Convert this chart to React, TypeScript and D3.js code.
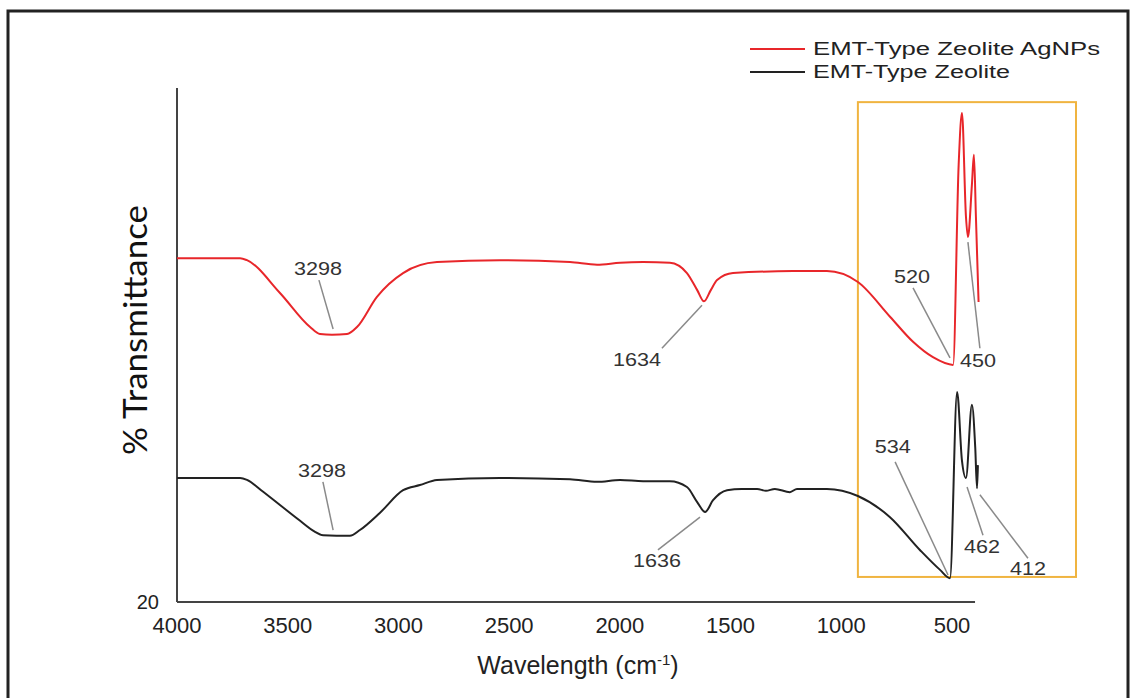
import React, { useEffect, useRef } from "react";
import * as d3 from "d3";

// EMT-Type Zeolite AgNPs (red)
const redWave = [4000, 3850, 3715, 3684, 3535, 3399, 3354, 3300, 3232, 3187, 3097, 2979, 2826, 2541, 2225, 2103, 1999, 1895, 1774, 1697, 1650, 1620, 1590, 1561, 1489, 1218, 1065, 925, 780, 676, 586, 495, 470, 455, 437, 428, 410, 401, 392, 380];
const redT = [73.5, 73.5, 73.5, 73.2, 68.1, 62.8, 61.7, 61.6, 61.7, 62.8, 67.5, 71.2, 72.9, 73.2, 72.9, 72.5, 72.8, 72.9, 72.8, 71.2, 68.5, 66.8, 68.5, 70.1, 71.2, 71.5, 71.5, 69.8, 64.4, 60.5, 58.1, 56.9, 88, 96.1, 80, 76.8, 85, 89.6, 80, 66.7];

// EMT-Type Zeolite (black)
const blackWave = [4000, 3715, 3684, 3620, 3535, 3450, 3380, 3340, 3219, 3174, 3083, 2979, 2903, 2826, 2541, 2225, 2103, 1999, 1895, 1774, 1697, 1650, 1615, 1580, 1516, 1450, 1380, 1340, 1300, 1232, 1200, 1065, 925, 780, 645, 554, 509, 477, 455, 437, 410, 395, 387, 383];
const blackT = [39.3, 39.3, 39.0, 37.4, 35.1, 32.8, 31.0, 30.4, 30.3, 31.2, 33.9, 37.4, 38.2, 39.0, 39.3, 39.1, 38.7, 39.0, 38.8, 38.8, 37.9, 35.5, 34.0, 35.8, 37.4, 37.6, 37.6, 37.3, 37.6, 37.1, 37.6, 37.6, 36.5, 33.2, 28.1, 25.0, 23.7, 52.7, 42, 39.3, 50.7, 44, 37.7, 41.3];

const xTicks = [4000, 3500, 3000, 2500, 2000, 1500, 1000, 500];
const legendNames = ["EMT-Type Zeolite AgNPs", "EMT-Type Zeolite"];
const seriesColors = ["#e8262a", "#222222"];

// peak annotations: label, text anchor (wave, T), leader line from/to (wave, T)
const peakLabels = ["3298", "3298", "1634", "1636", "520", "450", "534", "462", "412"];
const peakTextAt = [[3363, 70.9], [3345, 39.5], [1923, 56.7], [1832, 25.4], [681, 69.6], [383, 56.6], [767, 43.2], [365, 27.6], [157, 24.2]];
const peakLineFrom = [[3359, 70.1], [3341, 38.7], [1810, 59.5], [1828, 28.1], [676, 68.9], [428, 76.0], [757, 41.8], [432, 37.9], [374, 36.7]];
const peakLineTo = [[3295, 62.5], [3295, 31.2], [1629, 66.2], [1638, 33.2], [509, 58.0], [374, 59.5], [518, 24.2], [360, 30.4], [157, 26.8]];

// highlighted fingerprint region
const boxWave = [925, -60];
const boxT = [23.9, 97.8];

export default function App() {
  const ref = useRef<SVGSVGElement>(null);

  useEffect(() => {
    const svg = d3.select(ref.current);
    svg.selectAll("*").remove();

    const x = d3.scaleLinear().domain([4000, 500]).range([177, 952]);
    const y = d3.scaleLinear().domain([20, 100]).range([602, 88]);
    const font = "'Liberation Sans', Arial, sans-serif";

    // outer frame
    svg.append("rect").attr("x", 8).attr("y", 11).attr("width", 1120).attr("height", 700)
      .attr("fill", "none").attr("stroke", "#222").attr("stroke-width", 3);

    // axes
    svg.append("line").attr("x1", x(4000)).attr("x2", x(4000)).attr("y1", y(100)).attr("y2", y(20))
      .attr("stroke", "#444").attr("stroke-width", 2);
    svg.append("line").attr("x1", x(4000)).attr("x2", x(396)).attr("y1", y(20)).attr("y2", y(20))
      .attr("stroke", "#444").attr("stroke-width", 2);

    svg.selectAll(".xtick").data(xTicks).join("text").attr("class", "xtick")
      .attr("x", d => x(d)).attr("y", 633).attr("text-anchor", "middle")
      .attr("font-family", font).attr("font-size", 22).attr("fill", "#222")
      .text(d => d);

    svg.append("text").attr("x", 159).attr("y", 609).attr("text-anchor", "end")
      .attr("font-family", font).attr("font-size", 20).attr("fill", "#222").text("20");

    // axis titles
    const xt = svg.append("text").attr("x", 578).attr("y", 674).attr("text-anchor", "middle")
      .attr("font-family", font).attr("font-size", 25).attr("fill", "#222");
    xt.append("tspan").text("Wavelength (cm");
    xt.append("tspan").attr("dy", -9).attr("font-size", 15).text("-1");
    xt.append("tspan").attr("dy", 9).text(")");

    svg.append("text").attr("transform", "translate(147,330) rotate(-90)")
      .attr("text-anchor", "middle").attr("font-family", "Lato, 'Open Sans', sans-serif")
      .attr("font-size", 32).attr("fill", "#111")
      .attr("textLength", 250).attr("lengthAdjust", "spacingAndGlyphs")
      .text("% Transmittance");

    // highlight box
    svg.append("rect").attr("x", x(boxWave[0])).attr("y", y(boxT[1]))
      .attr("width", x(boxWave[1]) - x(boxWave[0])).attr("height", y(boxT[0]) - y(boxT[1]))
      .attr("fill", "none").attr("stroke", "#f0b440").attr("stroke-width", 2);

    // spectra
    const line = d3.line<[number, number]>().x(d => x(d[0])).y(d => y(d[1])).curve(d3.curveMonotoneX);
    const red = redWave.map((w, i) => [w, redT[i]] as [number, number]);
    const black = blackWave.map((w, i) => [w, blackT[i]] as [number, number]);
    [red, black].forEach((pts, i) => {
      svg.append("path").attr("d", line(pts)).attr("fill", "none")
        .attr("stroke", seriesColors[i]).attr("stroke-width", 2).attr("stroke-linejoin", "round");
    });

    // peak annotations
    peakLabels.forEach((lab, i) => {
      svg.append("line")
        .attr("x1", x(peakLineFrom[i][0])).attr("y1", y(peakLineFrom[i][1]))
        .attr("x2", x(peakLineTo[i][0])).attr("y2", y(peakLineTo[i][1]))
        .attr("stroke", "#8a8a8a").attr("stroke-width", 1.5);
      svg.append("text").attr("x", x(peakTextAt[i][0])).attr("y", y(peakTextAt[i][1]))
        .attr("text-anchor", "middle").attr("font-family", font).attr("font-size", 19)
        .attr("textLength", lab.length * 12).attr("lengthAdjust", "spacingAndGlyphs")
        .attr("fill", "#333").text(lab);
    });

    // legend
    const lg = svg.append("g");
    legendNames.forEach((name, i) => {
      const ly = 49 + i * 23;
      lg.append("line").attr("x1", 750).attr("x2", 805).attr("y1", ly).attr("y2", ly)
        .attr("stroke", seriesColors[i]).attr("stroke-width", 2);
      lg.append("text").attr("x", 813).attr("y", ly + 6).attr("font-family", font)
        .attr("font-size", 18).attr("fill", "#222")
        .attr("textLength", i === 0 ? 287 : 197).attr("lengthAdjust", "spacingAndGlyphs")
        .text(name);
    });
  }, []);

  return (
    <div style={{ position: "absolute", left: 0, top: 0, width: 1130, height: 698, background: "#fff" }}>
      <svg ref={ref} width={1130} height={698}></svg>
    </div>
  );
}
